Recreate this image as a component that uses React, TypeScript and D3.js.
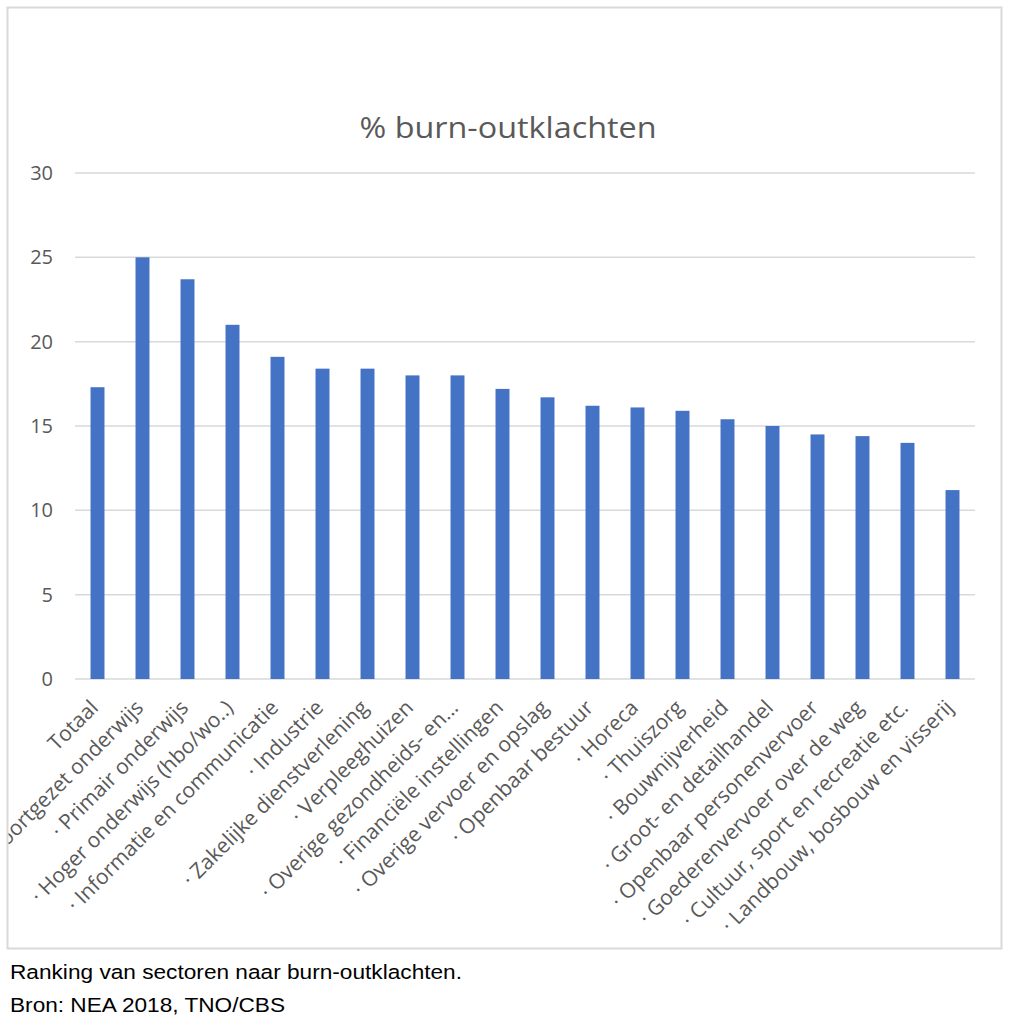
import React from "react";
import * as d3 from "d3";

const categories: string[] = [
  "Totaal",
  "· Voortgezet onderwijs",
  "· Primair onderwijs",
  "· Hoger onderwijs (hbo/wo..)",
  "· Informatie en communicatie",
  "· Industrie",
  "· Zakelijke dienstverlening",
  "· Verpleeghuizen",
  "· Overige gezondheids- en...",
  "· Financiële instellingen",
  "· Overige vervoer en opslag",
  "· Openbaar bestuur",
  "· Horeca",
  "· Thuiszorg",
  "· Bouwnijverheid",
  "· Groot- en detailhandel",
  "· Openbaar personenvervoer",
  "· Goederenvervoer over de weg",
  "· Cultuur, sport en recreatie etc.",
  "· Landbouw, bosbouw en visserij",
];

const values: number[] = [
  17.3, 25.0, 23.7, 21.0, 19.1, 18.4, 18.4, 18.0, 18.0, 17.2,
  16.7, 16.2, 16.1, 15.9, 15.4, 15.0, 14.5, 14.4, 14.0, 11.2,
];

const yTicks: number[] = [0, 5, 10, 15, 20, 25, 30];

const title = "% burn-outklachten";
const caption1 = "Ranking van sectoren naar burn-outklachten.";
const caption2 = "Bron: NEA 2018, TNO/CBS";

export default function App() {
  const W = 1014;
  const H = 1024;
  const plotLeft = 75;
  const plotRight = 975;
  const y0 = 679;
  const y30 = 173;

  const x = d3
    .scaleBand<string>()
    .domain(categories)
    .range([plotLeft, plotRight])
    .paddingInner(0.69)
    .paddingOuter(0.345);
  const y = d3.scaleLinear().domain([0, 30]).range([y0, y30]);

  const gray = "#595959";
  const font = "'Open Sans', sans-serif";

  return (
    <svg
      width={W}
      height={H}
      style={{ position: "absolute", left: 0, top: 0 }}
    >
      <defs>
        <clipPath id="frameClip">
          <rect x={8.5} y={8.5} width={992} height={939} />
        </clipPath>
      </defs>
      <rect x={0} y={0} width={W} height={H} fill="#ffffff" />
      <rect
        x={7.5}
        y={7.5}
        width={994}
        height={941}
        fill="#ffffff"
        stroke="#d9d9d9"
        strokeWidth={2}
      />
      <g clipPath="url(#frameClip)">
        <text
          x={508}
          y={138}
          textAnchor="middle"
          fontFamily={font}
          fontSize={29}
          textLength={297}
          lengthAdjust="spacingAndGlyphs"
          fill={gray}
        >
          {title}
        </text>
        {yTicks.map((t) => (
          <g key={t}>
            <line
              x1={plotLeft}
              x2={plotRight}
              y1={y(t)}
              y2={y(t)}
              stroke="#d9d9d9"
              strokeWidth={1.5}
            />
            <text
              x={53}
              y={y(t)}
              dy="0.35em"
              textAnchor="end"
              fontFamily={font}
              fontSize={20}
              fill={gray}
            >
              {t}
            </text>
          </g>
        ))}
        {categories.map((c, i) => (
          <rect
            key={c}
            x={x(c)}
            y={y(values[i])}
            width={x.bandwidth()}
            height={y(0) - y(values[i])}
            fill="#4472c4"
          />
        ))}
        {categories.map((c) => {
          const cx = (x(c) as number) + x.bandwidth() / 2 + 2;
          const cy = 709;
          return (
            <text
              key={c}
              transform={`translate(${cx},${cy}) rotate(-45)`}
              textAnchor="end"
              fontFamily={font}
              fontSize={21}
              fill={gray}
            >
              {c}
            </text>
          );
        })}
      </g>
      <text
        x={10}
        y={979}
        fontFamily="'Liberation Sans', Arial, sans-serif"
        fontSize={20.5}
        textLength={452}
        lengthAdjust="spacingAndGlyphs"
        fill="#000000"
      >
        {caption1}
      </text>
      <text
        x={10}
        y={1012}
        fontFamily="'Liberation Sans', Arial, sans-serif"
        fontSize={20.5}
        textLength={275}
        lengthAdjust="spacingAndGlyphs"
        fill="#000000"
      >
        {caption2}
      </text>
    </svg>
  );
}
